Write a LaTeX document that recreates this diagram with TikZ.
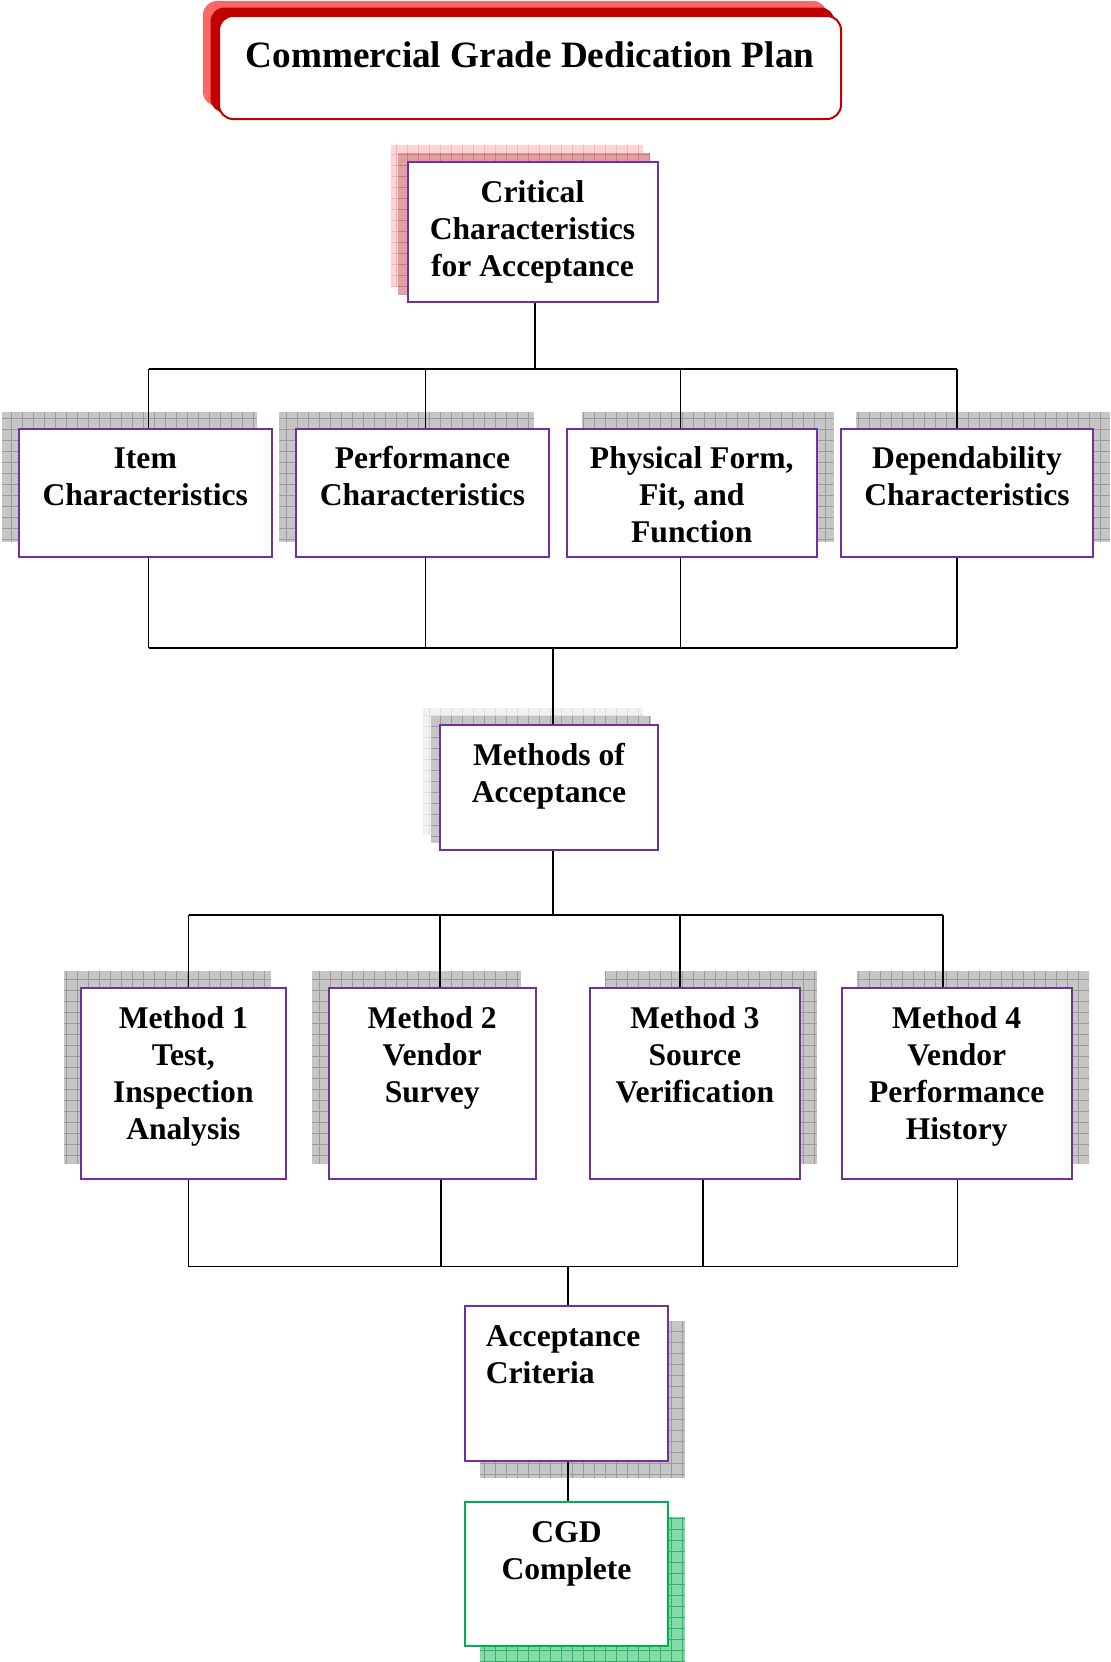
\documentclass[tikz,border=0pt]{standalone}
\usepackage{fontspec}
\setmainfont{Liberation Serif}
\usetikzlibrary{positioning}

\definecolor{boxpurple}{HTML}{7030A0}
\definecolor{titlered}{HTML}{C00000}
\definecolor{lightred}{HTML}{FF6666}
\definecolor{pinklight}{HTML}{FFD3D3}
\definecolor{pinkgrid}{HTML}{F2B4B4}
\definecolor{pinkdark}{HTML}{E3A0A0}
\definecolor{pinkdarkgrid}{HTML}{C87A7A}
\definecolor{shgray}{HTML}{C6C6C6}
\definecolor{shgraygrid}{HTML}{9C9C9C}
\definecolor{shpale}{HTML}{F1F1F1}
\definecolor{shpalegrid}{HTML}{E0E0E0}
\definecolor{cgdgreen}{HTML}{00B050}
\definecolor{shgreen}{HTML}{86D9A8}
\definecolor{shgreengrid}{HTML}{2FB465}

\pgfdeclarelayer{bg}
\pgfsetlayers{bg,main}

\begin{document}
\begin{tikzpicture}[x=0.5pt, y=-0.5pt,
        box/.style={rectangle, draw=boxpurple, line width=1pt, fill=white, inner sep=0pt},
        txt/.style={inner sep=0pt, align=center, font=\fontsize{15.8}{18.5}\selectfont\bfseries},
        link/.style={line width=0.9pt},
        gridshadow/.style 2 args={fill=#1, path picture={
            \draw[#2, line width=0.4pt] (path picture bounding box.south west) grid[step=5.5pt] (path picture bounding box.north east);}}]
    \useasboundingbox (0,0) rectangle (1111,1662);

    % title
    \node[rectangle, rounded corners=7pt, draw=titlered, line width=1pt, fill=white,
          minimum width=311pt, minimum height=51.5pt] (title) at (530,67.5) {};
    \node[inner sep=0pt, font=\fontsize{18.6}{22}\selectfont\bfseries, below=13pt of title.north] (title-t) {Commercial Grade Dedication Plan};

    % boxes
    \node[box, minimum width=125pt, minimum height=70pt] (crit) at (532.5,232) {};
    \node[txt, below=7.5pt of crit.north] (crit-t) {\strut Critical\\Characteristics\\for Acceptance};

    \node[box, minimum width=126.25pt, minimum height=64pt] (item) at (145.25,492.5) {};
    \node[box, minimum width=126.5pt, minimum height=64pt] (perf) at (422.5,492.5) {};
    \node[box, minimum width=124.75pt, minimum height=64pt] (phys) at (691.75,492.5) {};
    \node[box, minimum width=126pt, minimum height=64pt] (dep) at (967,492.5) {};
    \node[txt, below=7.5pt of item.north] (item-t) {\strut Item\\Characteristics};
    \node[txt, below=7.5pt of perf.north] (perf-t) {\strut Performance\\Characteristics};
    \node[txt, below=7.5pt of phys.north] (phys-t) {\strut Physical Form,\\Fit, and\\Function};
    \node[txt, below=7.5pt of dep.north] (dep-t) {\strut Dependability\\Characteristics};

    \node[box, minimum width=109pt, minimum height=62.5pt] (moa) at (549,787.5) {};
    \node[txt, below=7.5pt of moa.north] (moa-t) {\strut Methods of\\Acceptance};

    \node[box, minimum width=102.65pt, minimum height=95.5pt] (m1) at (183.35,1083.5) {};
    \node[box, minimum width=103.5pt, minimum height=95.5pt] (m2) at (432.2,1083.5) {};
    \node[box, minimum width=105.15pt, minimum height=95.5pt] (m3) at (694.85,1083.5) {};
    \node[box, minimum width=115.25pt, minimum height=95.5pt] (m4) at (956.75,1083.5) {};
    \node[txt, below=7.5pt of m1.north] (m1-t) {\strut Method 1\\Test,\\Inspection\\Analysis};
    \node[txt, below=7.5pt of m2.north] (m2-t) {\strut Method 2\\Vendor\\Survey};
    \node[txt, below=7.5pt of m3.north] (m3-t) {\strut Method 3\\Source\\Verification};
    \node[txt, below=7.5pt of m4.north] (m4-t) {\strut Method 4\\Vendor\\Performance\\History};

    \node[box, minimum width=101.5pt, minimum height=77.25pt] (accept) at (566.5,1383.25) {};
    \node[txt, align=left, below right=7.5pt and 10.75pt of accept.north west] (accept-t) {\strut Acceptance\\Criteria};

    \node[box, draw=cgdgreen, minimum width=101.5pt, minimum height=72pt] (cgd) at (566.5,1574) {};
    \node[txt, below=7.5pt of cgd.north] (cgd-t) {\strut CGD\\Complete};

    % shadows
    \begin{pgfonlayer}{bg}
        \fill[lightred, rounded corners=7pt] ([shift={(-15,-14)}]title.south west) rectangle ([shift={(-15,-14)}]title.north east);
        \fill[titlered, rounded corners=7pt] ([shift={(-7.5,-7.5)}]title.south west) rectangle ([shift={(-7.5,-7.5)}]title.north east);

        \path[gridshadow={pinklight}{pinkgrid}] ([shift={(-16,-16)}]crit.south west) rectangle ([shift={(-16,-16)}]crit.north east);
        \path[gridshadow={pinkdark}{pinkdarkgrid}] ([shift={(-8.5,-8.5)}]crit.south west) rectangle ([shift={(-8.5,-8.5)}]crit.north east);

        \path[gridshadow={shgray}{shgraygrid}] ([shift={(-16,-16)}]item.south west) rectangle ([shift={(-16,-16)}]item.north east);
        \path[gridshadow={shgray}{shgraygrid}] ([shift={(-16,-16)}]perf.south west) rectangle ([shift={(-16,-16)}]perf.north east);
        \path[gridshadow={shgray}{shgraygrid}] ([shift={(16,-16)}]phys.south west) rectangle ([shift={(16,-16)}]phys.north east);
        \path[gridshadow={shgray}{shgraygrid}] ([shift={(16,-16)}]dep.south west) rectangle ([shift={(16,-16)}]dep.north east);

        \path[gridshadow={shpale}{shpalegrid}] ([shift={(-16,-16)}]moa.south west) rectangle ([shift={(-16,-16)}]moa.north east);
        \path[gridshadow={shgray}{shgraygrid}] ([shift={(-8,-8)}]moa.south west) rectangle ([shift={(-8,-8)}]moa.north east);

        \path[gridshadow={shgray}{shgraygrid}] ([shift={(-16,-16)}]m1.south west) rectangle ([shift={(-16,-16)}]m1.north east);
        \path[gridshadow={shgray}{shgraygrid}] ([shift={(-16,-16)}]m2.south west) rectangle ([shift={(-16,-16)}]m2.north east);
        \path[gridshadow={shgray}{shgraygrid}] ([shift={(16,-16)}]m3.south west) rectangle ([shift={(16,-16)}]m3.north east);
        \path[gridshadow={shgray}{shgraygrid}] ([shift={(16,-16)}]m4.south west) rectangle ([shift={(16,-16)}]m4.north east);

        \path[gridshadow={shgray}{shgraygrid}] ([shift={(16,16)}]accept.south west) rectangle ([shift={(16,16)}]accept.north east);
        \path[gridshadow={shgreen}{shgreengrid}] ([shift={(16,16)}]cgd.south west) rectangle ([shift={(16,16)}]cgd.north east);
    \end{pgfonlayer}

    % connectors
    \coordinate (t0) at (535,369);
    \coordinate (t1) at (148.5,369);
    \coordinate (t2) at (425.5,369);
    \coordinate (t3) at (680.5,369);
    \coordinate (t4) at (957,369);
    \draw[link] (t0 |- crit.south) -- (t0);
    \draw[link] (t1) -- (t4);
    \draw[link] (t1) -- (t1 |- item.north);
    \draw[link] (t2) -- (t2 |- perf.north);
    \draw[link] (t3) -- (t3 |- phys.north);
    \draw[link] (t4) -- (t4 |- dep.north);

    \coordinate (u0) at (553,647.7);
    \coordinate (u1) at (148.5,647.7);
    \coordinate (u2) at (425.5,647.7);
    \coordinate (u3) at (680.5,647.7);
    \coordinate (u4) at (957,647.7);
    \draw[link] (u1 |- item.south) -- (u1);
    \draw[link] (u2 |- perf.south) -- (u2);
    \draw[link] (u3 |- phys.south) -- (u3);
    \draw[link] (u4 |- dep.south) -- (u4);
    \draw[link] (u1) -- (u4);
    \draw[link] (u0) -- (u0 |- moa.north);

    \coordinate (v0) at (553,915);
    \coordinate (v1) at (188.5,915);
    \coordinate (v2) at (440.3,915);
    \coordinate (v3) at (680,915);
    \coordinate (v4) at (942.7,915);
    \draw[link] (v0 |- moa.south) -- (v0);
    \draw[link] (v1) -- (v4);
    \draw[link] (v1) -- (v1 |- m1.north);
    \draw[link] (v2) -- (v2 |- m2.north);
    \draw[link] (v3) -- (v3 |- m3.north);
    \draw[link] (v4) -- (v4 |- m4.north);

    \coordinate (w0) at (568,1266.5);
    \coordinate (w1) at (188.5,1266.5);
    \coordinate (w2) at (441,1266.5);
    \coordinate (w3) at (703,1266.5);
    \coordinate (w4) at (957.5,1266.5);
    \draw[link] (w1 |- m1.south) -- (w1);
    \draw[link] (w2 |- m2.south) -- (w2);
    \draw[link] (w3 |- m3.south) -- (w3);
    \draw[link] (w4 |- m4.south) -- (w4);
    \draw[link] (w1) -- (w4);
    \draw[link] (w0) -- (w0 |- accept.north);
    \draw[link] (w0 |- accept.south) -- (w0 |- cgd.north);
\end{tikzpicture}
\end{document}
